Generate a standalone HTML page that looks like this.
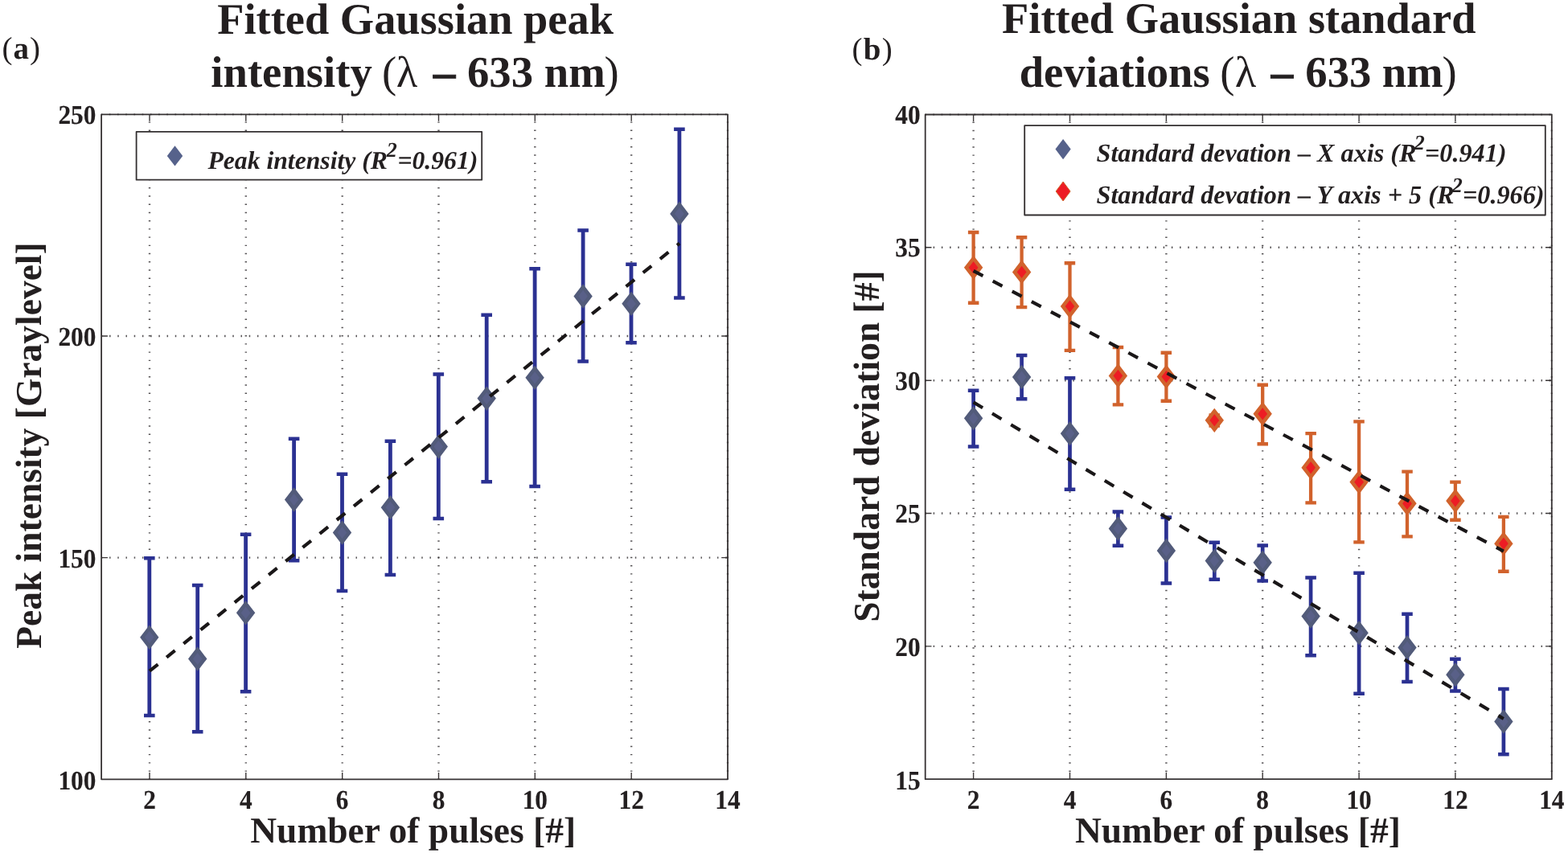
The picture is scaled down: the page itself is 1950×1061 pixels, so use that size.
<!DOCTYPE html>
<html lang="en"><head><meta charset="utf-8"><title>Fitted Gaussian peak intensity and standard deviations</title>
<style>
html,body{margin:0;padding:0;background:#fff;}
body{width:1950px;height:1061px;overflow:hidden;}
svg{display:block;}
text{font-family:'Liberation Serif', serif;fill:#231f20;text-rendering:geometricPrecision;}
.t{font-weight:bold;font-size:54.7px;text-anchor:middle;}
.al{font-weight:bold;font-size:45.5px;text-anchor:middle;}
.tk{font-weight:bold;font-size:33.5px;stroke:#231f20;stroke-width:0.15px;}
.lg{font-weight:bold;font-style:italic;font-size:32.2px;}
.pn{font-weight:bold;font-size:39px;}
</style></head><body>
<svg width="1950" height="1061" viewBox="0 0 1950 1061" role="img" aria-label="Fitted Gaussian peak intensity and standard deviations versus number of pulses">
<rect width="1950" height="1061" fill="#fff"/>
<path d="M186.0 142.3V969.3" stroke="#3a3638" stroke-width="2.4" stroke-dasharray="1.4 8.815" stroke-dashoffset="-9.10" fill="none" opacity="0.85"/>
<path d="M305.8 142.3V969.3" stroke="#3a3638" stroke-width="2.4" stroke-dasharray="1.4 8.815" stroke-dashoffset="-9.10" fill="none" opacity="0.85"/>
<path d="M425.7 142.3V969.3" stroke="#3a3638" stroke-width="2.4" stroke-dasharray="1.4 8.815" stroke-dashoffset="-9.10" fill="none" opacity="0.85"/>
<path d="M545.5 142.3V969.3" stroke="#3a3638" stroke-width="2.4" stroke-dasharray="1.4 8.815" stroke-dashoffset="-9.10" fill="none" opacity="0.85"/>
<path d="M665.3 142.3V969.3" stroke="#3a3638" stroke-width="2.4" stroke-dasharray="1.4 8.815" stroke-dashoffset="-9.10" fill="none" opacity="0.85"/>
<path d="M785.2 142.3V969.3" stroke="#3a3638" stroke-width="2.4" stroke-dasharray="1.4 8.815" stroke-dashoffset="-9.10" fill="none" opacity="0.85"/>
<path d="M126.1 693.6H905.0" stroke="#3a3638" stroke-width="2.4" stroke-dasharray="1.5 8.715" stroke-dashoffset="-9.95" fill="none" opacity="0.85"/>
<path d="M126.1 418.0H905.0" stroke="#3a3638" stroke-width="2.4" stroke-dasharray="1.5 8.715" stroke-dashoffset="-9.95" fill="none" opacity="0.85"/>
<path d="M186.0 142.3v8.4M186.0 969.3v-8.4" stroke="#3a3637" stroke-width="1.4" fill="none"/>
<path d="M305.8 142.3v8.4M305.8 969.3v-8.4" stroke="#3a3637" stroke-width="1.4" fill="none"/>
<path d="M425.7 142.3v8.4M425.7 969.3v-8.4" stroke="#3a3637" stroke-width="1.4" fill="none"/>
<path d="M545.5 142.3v8.4M545.5 969.3v-8.4" stroke="#3a3637" stroke-width="1.4" fill="none"/>
<path d="M665.3 142.3v8.4M665.3 969.3v-8.4" stroke="#3a3637" stroke-width="1.4" fill="none"/>
<path d="M785.2 142.3v8.4M785.2 969.3v-8.4" stroke="#3a3637" stroke-width="1.4" fill="none"/>
<path d="M126.1 693.6h7.8M905.0 693.6h-7.8" stroke="#3a3637" stroke-width="1.4" fill="none"/>
<path d="M126.1 418.0h7.8M905.0 418.0h-7.8" stroke="#3a3637" stroke-width="1.4" fill="none"/>
<rect x="126.1" y="142.3" width="778.9" height="827.0" fill="none" stroke="#373334" stroke-width="1.8" stroke-linejoin="round"/>
<path d="M126.1 142.3H905.0" stroke="#231f20" stroke-width="2.6" stroke-dasharray="1.6 8.615" stroke-dashoffset="-9.7" fill="none" opacity="0.4"/><path d="M905.0 142.3V969.3" stroke="#231f20" stroke-width="2.6" stroke-dasharray="1.6 8.615" stroke-dashoffset="-8.9" fill="none" opacity="0.4"/>
<path d="M185.8 694.2V890.0" stroke="#2b3192" stroke-width="4.8" fill="none"/><path d="M179.0 694.2h13.6M179.0 890.0h13.6" stroke="#2b3192" stroke-width="4.5" fill="none"/>
<path d="M245.7 728.1V910.3" stroke="#2b3192" stroke-width="4.8" fill="none"/><path d="M238.9 728.1h13.6M238.9 910.3h13.6" stroke="#2b3192" stroke-width="4.5" fill="none"/>
<path d="M305.6 664.7V860.2" stroke="#2b3192" stroke-width="4.8" fill="none"/><path d="M298.8 664.7h13.6M298.8 860.2h13.6" stroke="#2b3192" stroke-width="4.5" fill="none"/>
<path d="M365.6 545.7V697.2" stroke="#2b3192" stroke-width="4.8" fill="none"/><path d="M358.8 545.7h13.6M358.8 697.2h13.6" stroke="#2b3192" stroke-width="4.5" fill="none"/>
<path d="M425.5 589.8V735.0" stroke="#2b3192" stroke-width="4.8" fill="none"/><path d="M418.7 589.8h13.6M418.7 735.0h13.6" stroke="#2b3192" stroke-width="4.5" fill="none"/>
<path d="M485.4 548.8V715.0" stroke="#2b3192" stroke-width="4.8" fill="none"/><path d="M478.6 548.8h13.6M478.6 715.0h13.6" stroke="#2b3192" stroke-width="4.5" fill="none"/>
<path d="M545.3 465.5V644.9" stroke="#2b3192" stroke-width="4.8" fill="none"/><path d="M538.5 465.5h13.6M538.5 644.9h13.6" stroke="#2b3192" stroke-width="4.5" fill="none"/>
<path d="M605.2 391.8V599.2" stroke="#2b3192" stroke-width="4.8" fill="none"/><path d="M598.4 391.8h13.6M598.4 599.2h13.6" stroke="#2b3192" stroke-width="4.5" fill="none"/>
<path d="M665.1 334.3V605.0" stroke="#2b3192" stroke-width="4.8" fill="none"/><path d="M658.3 334.3h13.6M658.3 605.0h13.6" stroke="#2b3192" stroke-width="4.5" fill="none"/>
<path d="M725.1 286.4V449.6" stroke="#2b3192" stroke-width="4.8" fill="none"/><path d="M718.3 286.4h13.6M718.3 449.6h13.6" stroke="#2b3192" stroke-width="4.5" fill="none"/>
<path d="M785.0 328.7V426.3" stroke="#2b3192" stroke-width="4.8" fill="none"/><path d="M778.2 328.7h13.6M778.2 426.3h13.6" stroke="#2b3192" stroke-width="4.5" fill="none"/>
<path d="M844.9 160.8V370.4" stroke="#2b3192" stroke-width="4.8" fill="none"/><path d="M838.1 160.8h13.6M838.1 370.4h13.6" stroke="#2b3192" stroke-width="4.5" fill="none"/>
<path d="M185.8 781.2L194.6 792.7L185.8 804.2L177.0 792.7Z" fill="#596088" stroke="#525b7a" stroke-width="4.6"/>
<path d="M245.7 808.0L254.5 819.5L245.7 831.0L236.9 819.5Z" fill="#596088" stroke="#525b7a" stroke-width="4.6"/>
<path d="M305.6 750.8L314.4 762.3L305.6 773.8L296.8 762.3Z" fill="#596088" stroke="#525b7a" stroke-width="4.6"/>
<path d="M365.6 610.0L374.4 621.5L365.6 633.0L356.8 621.5Z" fill="#596088" stroke="#525b7a" stroke-width="4.6"/>
<path d="M425.5 651.0L434.3 662.5L425.5 674.0L416.7 662.5Z" fill="#596088" stroke="#525b7a" stroke-width="4.6"/>
<path d="M485.4 619.8L494.2 631.2L485.4 642.7L476.6 631.2Z" fill="#596088" stroke="#525b7a" stroke-width="4.6"/>
<path d="M545.3 544.1L554.1 555.6L545.3 567.1L536.5 555.6Z" fill="#596088" stroke="#525b7a" stroke-width="4.6"/>
<path d="M605.2 484.2L614.0 495.6L605.2 507.1L596.4 495.6Z" fill="#596088" stroke="#525b7a" stroke-width="4.6"/>
<path d="M665.1 458.4L673.9 469.8L665.1 481.2L656.3 469.8Z" fill="#596088" stroke="#525b7a" stroke-width="4.6"/>
<path d="M725.1 357.1L733.9 368.5L725.1 379.9L716.3 368.5Z" fill="#596088" stroke="#525b7a" stroke-width="4.6"/>
<path d="M785.0 366.4L793.8 377.8L785.0 389.2L776.2 377.8Z" fill="#596088" stroke="#525b7a" stroke-width="4.6"/>
<path d="M844.9 254.4L853.7 265.9L844.9 277.3L836.1 265.9Z" fill="#596088" stroke="#525b7a" stroke-width="4.6"/>
<path d="M186.0 834.7L845.1 302.6" stroke="#1a1718" stroke-width="4.2" stroke-dasharray="13.4 13.8" fill="none"/>
<rect x="169.6" y="163.9" width="429.6" height="59.8" fill="#fff" stroke="#332f30" stroke-width="1.8" stroke-linejoin="round"/>
<path d="M217.5 181.2L227.2 193.9L217.5 206.6L207.8 193.9Z" fill="#56628b"/>
<text class="lg" x="258.4" y="209.7" style="font-size:31.7px">Peak intensity (R<tspan font-size="26" dy="-15.2" dx="-1.3">2</tspan><tspan dy="15.2" dx="0.8">=0.961)</tspan></text>
<text class="tk" transform="translate(119.4 981.7) scale(0.935 1)" text-anchor="end">100</text>
<text class="tk" transform="translate(119.4 705.7) scale(0.935 1)" text-anchor="end">150</text>
<text class="tk" transform="translate(119.4 429.7) scale(0.935 1)" text-anchor="end">200</text>
<text class="tk" transform="translate(119.4 153.7) scale(0.935 1)" text-anchor="end">250</text>
<text class="tk" transform="translate(186.0 1005.7) scale(0.935 1)" text-anchor="middle">2</text>
<text class="tk" transform="translate(305.8 1005.7) scale(0.935 1)" text-anchor="middle">4</text>
<text class="tk" transform="translate(425.7 1005.7) scale(0.935 1)" text-anchor="middle">6</text>
<text class="tk" transform="translate(545.5 1005.7) scale(0.935 1)" text-anchor="middle">8</text>
<text class="tk" transform="translate(665.3 1005.7) scale(0.935 1)" text-anchor="middle">10</text>
<text class="tk" transform="translate(785.2 1005.7) scale(0.935 1)" text-anchor="middle">12</text>
<text class="tk" transform="translate(905.0 1005.7) scale(0.935 1)" text-anchor="middle">14</text>
<text class="al" x="513.7" y="1047.7">Number of pulses [#]</text>
<text class="al" transform="translate(50.5 554.1) rotate(-90)">Peak intensity [Graylevel]</text>
<text class="t" x="516.6" y="41.5" style="font-size:54.4px">Fitted Gaussian peak</text>
<text class="t" y="108.3" style="text-anchor:start"><tspan x="262.3">intensity </tspan><tspan x="475" font-weight="normal">(</tspan><tspan x="492.7" font-weight="normal">λ </tspan><tspan x="539" stroke="#231f20" stroke-width="1">– </tspan><tspan x="581">633 </tspan><tspan x="676.8">nm</tspan><tspan x="751.6" font-weight="normal">)</tspan></text>
<text class="pn" x="2.4" y="73" letter-spacing="1.1"><tspan font-weight="normal">(</tspan>a<tspan font-weight="normal">)</tspan></text>
<path d="M1210.6 142.5V969.2" stroke="#3a3638" stroke-width="2.4" stroke-dasharray="1.4 8.815" stroke-dashoffset="-9.10" fill="none" opacity="0.85"/>
<path d="M1330.5 142.5V969.2" stroke="#3a3638" stroke-width="2.4" stroke-dasharray="1.4 8.815" stroke-dashoffset="-9.10" fill="none" opacity="0.85"/>
<path d="M1450.4 142.5V969.2" stroke="#3a3638" stroke-width="2.4" stroke-dasharray="1.4 8.815" stroke-dashoffset="-9.10" fill="none" opacity="0.85"/>
<path d="M1570.2 142.5V969.2" stroke="#3a3638" stroke-width="2.4" stroke-dasharray="1.4 8.815" stroke-dashoffset="-9.10" fill="none" opacity="0.85"/>
<path d="M1690.1 142.5V969.2" stroke="#3a3638" stroke-width="2.4" stroke-dasharray="1.4 8.815" stroke-dashoffset="-9.10" fill="none" opacity="0.85"/>
<path d="M1809.9 142.5V969.2" stroke="#3a3638" stroke-width="2.4" stroke-dasharray="1.4 8.815" stroke-dashoffset="-9.10" fill="none" opacity="0.85"/>
<path d="M1150.7 803.9H1929.8" stroke="#3a3638" stroke-width="2.4" stroke-dasharray="1.5 8.715" stroke-dashoffset="-9.95" fill="none" opacity="0.85"/>
<path d="M1150.7 638.5H1929.8" stroke="#3a3638" stroke-width="2.4" stroke-dasharray="1.5 8.715" stroke-dashoffset="-9.95" fill="none" opacity="0.85"/>
<path d="M1150.7 473.2H1929.8" stroke="#3a3638" stroke-width="2.4" stroke-dasharray="1.5 8.715" stroke-dashoffset="-9.95" fill="none" opacity="0.85"/>
<path d="M1150.7 307.8H1929.8" stroke="#3a3638" stroke-width="2.4" stroke-dasharray="1.5 8.715" stroke-dashoffset="-9.95" fill="none" opacity="0.85"/>
<path d="M1210.6 142.5v8.4M1210.6 969.2v-8.4" stroke="#3a3637" stroke-width="1.4" fill="none"/>
<path d="M1330.5 142.5v8.4M1330.5 969.2v-8.4" stroke="#3a3637" stroke-width="1.4" fill="none"/>
<path d="M1450.4 142.5v8.4M1450.4 969.2v-8.4" stroke="#3a3637" stroke-width="1.4" fill="none"/>
<path d="M1570.2 142.5v8.4M1570.2 969.2v-8.4" stroke="#3a3637" stroke-width="1.4" fill="none"/>
<path d="M1690.1 142.5v8.4M1690.1 969.2v-8.4" stroke="#3a3637" stroke-width="1.4" fill="none"/>
<path d="M1809.9 142.5v8.4M1809.9 969.2v-8.4" stroke="#3a3637" stroke-width="1.4" fill="none"/>
<path d="M1150.7 803.9h7.8M1929.8 803.9h-7.8" stroke="#3a3637" stroke-width="1.4" fill="none"/>
<path d="M1150.7 638.5h7.8M1929.8 638.5h-7.8" stroke="#3a3637" stroke-width="1.4" fill="none"/>
<path d="M1150.7 473.2h7.8M1929.8 473.2h-7.8" stroke="#3a3637" stroke-width="1.4" fill="none"/>
<path d="M1150.7 307.8h7.8M1929.8 307.8h-7.8" stroke="#3a3637" stroke-width="1.4" fill="none"/>
<rect x="1150.7" y="142.5" width="779.1" height="826.7" fill="none" stroke="#373334" stroke-width="1.8" stroke-linejoin="round"/>
<path d="M1150.7 142.5H1929.8" stroke="#231f20" stroke-width="2.6" stroke-dasharray="1.6 8.615" stroke-dashoffset="-9.7" fill="none" opacity="0.4"/><path d="M1929.8 142.5V969.2" stroke="#231f20" stroke-width="2.6" stroke-dasharray="1.6 8.615" stroke-dashoffset="-8.9" fill="none" opacity="0.4"/>
<path d="M1210.6 485.8V555.6" stroke="#2b3192" stroke-width="4.7" fill="none"/><path d="M1203.8 485.8h13.6M1203.8 555.6h13.6" stroke="#2b3192" stroke-width="4.5" fill="none"/>
<path d="M1270.6 442.0V496.2" stroke="#2b3192" stroke-width="4.7" fill="none"/><path d="M1263.8 442.0h13.6M1263.8 496.2h13.6" stroke="#2b3192" stroke-width="4.5" fill="none"/>
<path d="M1330.5 470.3V608.7" stroke="#2b3192" stroke-width="4.7" fill="none"/><path d="M1323.7 470.3h13.6M1323.7 608.7h13.6" stroke="#2b3192" stroke-width="4.5" fill="none"/>
<path d="M1390.4 636.4V678.7" stroke="#2b3192" stroke-width="4.7" fill="none"/><path d="M1383.6 636.4h13.6M1383.6 678.7h13.6" stroke="#2b3192" stroke-width="4.5" fill="none"/>
<path d="M1450.4 643.6V725.5" stroke="#2b3192" stroke-width="4.7" fill="none"/><path d="M1443.6 643.6h13.6M1443.6 725.5h13.6" stroke="#2b3192" stroke-width="4.5" fill="none"/>
<path d="M1510.3 674.7V720.8" stroke="#2b3192" stroke-width="4.7" fill="none"/><path d="M1503.5 674.7h13.6M1503.5 720.8h13.6" stroke="#2b3192" stroke-width="4.5" fill="none"/>
<path d="M1570.2 678.4V722.4" stroke="#2b3192" stroke-width="4.7" fill="none"/><path d="M1563.4 678.4h13.6M1563.4 722.4h13.6" stroke="#2b3192" stroke-width="4.5" fill="none"/>
<path d="M1630.1 718.6V815.2" stroke="#2b3192" stroke-width="4.7" fill="none"/><path d="M1623.3 718.6h13.6M1623.3 815.2h13.6" stroke="#2b3192" stroke-width="4.5" fill="none"/>
<path d="M1690.1 712.7V862.7" stroke="#2b3192" stroke-width="4.7" fill="none"/><path d="M1683.3 712.7h13.6M1683.3 862.7h13.6" stroke="#2b3192" stroke-width="4.5" fill="none"/>
<path d="M1750.0 763.8V848.0" stroke="#2b3192" stroke-width="4.7" fill="none"/><path d="M1743.2 763.8h13.6M1743.2 848.0h13.6" stroke="#2b3192" stroke-width="4.5" fill="none"/>
<path d="M1809.9 819.8V859.5" stroke="#2b3192" stroke-width="4.7" fill="none"/><path d="M1803.1 819.8h13.6M1803.1 859.5h13.6" stroke="#2b3192" stroke-width="4.5" fill="none"/>
<path d="M1869.9 857.0V938.2" stroke="#2b3192" stroke-width="4.7" fill="none"/><path d="M1863.1 857.0h13.6M1863.1 938.2h13.6" stroke="#2b3192" stroke-width="4.5" fill="none"/>
<path d="M1210.6 508.8L1219.4 520.3L1210.6 531.8L1201.8 520.3Z" fill="#596088" stroke="#525b7a" stroke-width="4.6"/>
<path d="M1270.6 457.6L1279.4 469.0L1270.6 480.4L1261.8 469.0Z" fill="#596088" stroke="#525b7a" stroke-width="4.6"/>
<path d="M1330.5 527.8L1339.3 539.2L1330.5 550.7L1321.7 539.2Z" fill="#596088" stroke="#525b7a" stroke-width="4.6"/>
<path d="M1390.4 646.0L1399.2 657.5L1390.4 669.0L1381.6 657.5Z" fill="#596088" stroke="#525b7a" stroke-width="4.6"/>
<path d="M1450.4 673.4L1459.2 684.9L1450.4 696.4L1441.6 684.9Z" fill="#596088" stroke="#525b7a" stroke-width="4.6"/>
<path d="M1510.3 686.1L1519.1 697.6L1510.3 709.1L1501.5 697.6Z" fill="#596088" stroke="#525b7a" stroke-width="4.6"/>
<path d="M1570.2 688.3L1579.0 699.8L1570.2 711.2L1561.4 699.8Z" fill="#596088" stroke="#525b7a" stroke-width="4.6"/>
<path d="M1630.1 755.0L1638.9 766.5L1630.1 778.0L1621.3 766.5Z" fill="#596088" stroke="#525b7a" stroke-width="4.6"/>
<path d="M1690.1 775.8L1698.9 787.2L1690.1 798.7L1681.3 787.2Z" fill="#596088" stroke="#525b7a" stroke-width="4.6"/>
<path d="M1750.0 793.9L1758.8 805.4L1750.0 816.9L1741.2 805.4Z" fill="#596088" stroke="#525b7a" stroke-width="4.6"/>
<path d="M1809.9 827.8L1818.7 839.2L1809.9 850.7L1801.1 839.2Z" fill="#596088" stroke="#525b7a" stroke-width="4.6"/>
<path d="M1869.9 886.0L1878.7 897.5L1869.9 909.0L1861.1 897.5Z" fill="#596088" stroke="#525b7a" stroke-width="4.6"/>
<path d="M1210.6 289.0V376.8" stroke="#d1622c" stroke-width="4.3" fill="none"/><path d="M1203.9 289.0h13.5M1203.9 376.8h13.5" stroke="#d1622c" stroke-width="4.4" fill="none"/>
<path d="M1270.6 295.2V382.1" stroke="#d1622c" stroke-width="4.3" fill="none"/><path d="M1263.8 295.2h13.5M1263.8 382.1h13.5" stroke="#d1622c" stroke-width="4.4" fill="none"/>
<path d="M1330.5 327.2V435.9" stroke="#d1622c" stroke-width="4.3" fill="none"/><path d="M1323.7 327.2h13.5M1323.7 435.9h13.5" stroke="#d1622c" stroke-width="4.4" fill="none"/>
<path d="M1390.4 432.0V503.4" stroke="#d1622c" stroke-width="4.3" fill="none"/><path d="M1383.7 432.0h13.5M1383.7 503.4h13.5" stroke="#d1622c" stroke-width="4.4" fill="none"/>
<path d="M1450.4 438.7V498.8" stroke="#d1622c" stroke-width="4.3" fill="none"/><path d="M1443.6 438.7h13.5M1443.6 498.8h13.5" stroke="#d1622c" stroke-width="4.4" fill="none"/>
<path d="M1510.3 516.5V529.6" stroke="#d1622c" stroke-width="4.3" fill="none"/><path d="M1503.5 516.5h13.5M1503.5 529.6h13.5" stroke="#d1622c" stroke-width="4.4" fill="none"/>
<path d="M1570.2 478.7V552.3" stroke="#d1622c" stroke-width="4.3" fill="none"/><path d="M1563.5 478.7h13.5M1563.5 552.3h13.5" stroke="#d1622c" stroke-width="4.4" fill="none"/>
<path d="M1630.1 539.1V625.4" stroke="#d1622c" stroke-width="4.3" fill="none"/><path d="M1623.4 539.1h13.5M1623.4 625.4h13.5" stroke="#d1622c" stroke-width="4.4" fill="none"/>
<path d="M1690.1 524.4V674.4" stroke="#d1622c" stroke-width="4.3" fill="none"/><path d="M1683.3 524.4h13.5M1683.3 674.4h13.5" stroke="#d1622c" stroke-width="4.4" fill="none"/>
<path d="M1750.0 586.6V667.4" stroke="#d1622c" stroke-width="4.3" fill="none"/><path d="M1743.3 586.6h13.5M1743.3 667.4h13.5" stroke="#d1622c" stroke-width="4.4" fill="none"/>
<path d="M1809.9 599.6V646.8" stroke="#d1622c" stroke-width="4.3" fill="none"/><path d="M1803.2 599.6h13.5M1803.2 646.8h13.5" stroke="#d1622c" stroke-width="4.4" fill="none"/>
<path d="M1869.9 642.9V710.7" stroke="#d1622c" stroke-width="4.3" fill="none"/><path d="M1863.1 642.9h13.5M1863.1 710.7h13.5" stroke="#d1622c" stroke-width="4.4" fill="none"/>
<path d="M1210.6 321.4L1219.4 332.8L1210.6 344.2L1201.8 332.8Z" fill="#ed1c24" stroke="#d1622c" stroke-width="4.6"/>
<path d="M1270.6 327.0L1279.4 338.4L1270.6 349.8L1261.8 338.4Z" fill="#ed1c24" stroke="#d1622c" stroke-width="4.6"/>
<path d="M1330.5 369.6L1339.3 381.0L1330.5 392.4L1321.7 381.0Z" fill="#ed1c24" stroke="#d1622c" stroke-width="4.6"/>
<path d="M1390.4 456.0L1399.2 467.4L1390.4 478.8L1381.6 467.4Z" fill="#ed1c24" stroke="#d1622c" stroke-width="4.6"/>
<path d="M1450.4 457.2L1459.2 468.6L1450.4 480.0L1441.6 468.6Z" fill="#ed1c24" stroke="#d1622c" stroke-width="4.6"/>
<path d="M1510.3 511.4L1519.1 522.8L1510.3 534.2L1501.5 522.8Z" fill="#ed1c24" stroke="#d1622c" stroke-width="4.6"/>
<path d="M1570.2 503.4L1579.0 514.8L1570.2 526.2L1561.4 514.8Z" fill="#ed1c24" stroke="#d1622c" stroke-width="4.6"/>
<path d="M1630.1 570.3L1638.9 581.7L1630.1 593.1L1621.3 581.7Z" fill="#ed1c24" stroke="#d1622c" stroke-width="4.6"/>
<path d="M1690.1 588.2L1698.9 599.6L1690.1 611.0L1681.3 599.6Z" fill="#ed1c24" stroke="#d1622c" stroke-width="4.6"/>
<path d="M1750.0 614.9L1758.8 626.3L1750.0 637.7L1741.2 626.3Z" fill="#ed1c24" stroke="#d1622c" stroke-width="4.6"/>
<path d="M1809.9 611.6L1818.7 623.0L1809.9 634.4L1801.1 623.0Z" fill="#ed1c24" stroke="#d1622c" stroke-width="4.6"/>
<path d="M1869.9 664.8L1878.7 676.2L1869.9 687.6L1861.1 676.2Z" fill="#ed1c24" stroke="#d1622c" stroke-width="4.6"/>
<path d="M1210.6 336.8L1869.9 685.7" stroke="#1a1718" stroke-width="4.2" stroke-dasharray="13.4 13.85" fill="none"/>
<path d="M1210.6 500.4L1869.9 894.0" stroke="#1a1718" stroke-width="4.2" stroke-dasharray="13.4 13.75" fill="none"/>
<rect x="1274.2" y="156.1" width="647.6" height="111.4" fill="#fff" stroke="#332f30" stroke-width="1.8" stroke-linejoin="round"/>
<path d="M1322.1 173.0L1331.7 185.6L1322.1 198.2L1312.5 185.6Z" fill="#56628b"/>
<path d="M1322.1 226.0L1331.1 238.0L1322.1 250.0L1313.1 238.0Z" fill="#ed1c24" stroke="#d1622c" stroke-width="1"/>
<text class="lg" x="1363.5" y="200.6">Standard devation – X axis (R<tspan font-size="26" dy="-14.3" dx="-2.6">2</tspan><tspan dy="14.3" dx="0.2">=0.941)</tspan></text>
<text class="lg" x="1363.5" y="252.8">Standard devation – Y axis + 5 (R<tspan font-size="26" dy="-14.3" dx="-2.6">2</tspan><tspan dy="14.3" dx="0.2">=0.966)</tspan></text>
<text class="tk" transform="translate(1144.6 981.5) scale(0.935 1)" text-anchor="end">15</text>
<text class="tk" transform="translate(1144.6 816.0) scale(0.935 1)" text-anchor="end">20</text>
<text class="tk" transform="translate(1144.6 650.4) scale(0.935 1)" text-anchor="end">25</text>
<text class="tk" transform="translate(1144.6 484.9) scale(0.935 1)" text-anchor="end">30</text>
<text class="tk" transform="translate(1144.6 319.3) scale(0.935 1)" text-anchor="end">35</text>
<text class="tk" transform="translate(1144.6 153.8) scale(0.935 1)" text-anchor="end">40</text>
<text class="tk" transform="translate(1210.6 1005.7) scale(0.935 1)" text-anchor="middle">2</text>
<text class="tk" transform="translate(1330.5 1005.7) scale(0.935 1)" text-anchor="middle">4</text>
<text class="tk" transform="translate(1450.4 1005.7) scale(0.935 1)" text-anchor="middle">6</text>
<text class="tk" transform="translate(1570.2 1005.7) scale(0.935 1)" text-anchor="middle">8</text>
<text class="tk" transform="translate(1690.1 1005.7) scale(0.935 1)" text-anchor="middle">10</text>
<text class="tk" transform="translate(1809.9 1005.7) scale(0.935 1)" text-anchor="middle">12</text>
<text class="tk" transform="translate(1929.8 1005.7) scale(0.935 1)" text-anchor="middle">14</text>
<text class="al" x="1539.4" y="1047.7">Number of pulses [#]</text>
<text class="al" transform="translate(1093 555) rotate(-90)">Standard deviation [#]</text>
<text class="t" x="1540.8" y="41.4" style="font-size:54.4px">Fitted Gaussian standard</text>
<text class="t" y="108.3" style="text-anchor:start"><tspan x="1267.7">deviations </tspan><tspan x="1517.3" font-weight="normal">(</tspan><tspan x="1535.8" font-weight="normal">λ </tspan><tspan x="1580.8" stroke="#231f20" stroke-width="1">– </tspan><tspan x="1623.3">633 </tspan><tspan x="1718.7">nm</tspan><tspan x="1793.4" font-weight="normal">)</tspan></text>
<text class="pn" x="1059.6" y="73.9" letter-spacing="1.2"><tspan font-weight="normal">(</tspan>b<tspan font-weight="normal">)</tspan></text>
</svg></body></html>
